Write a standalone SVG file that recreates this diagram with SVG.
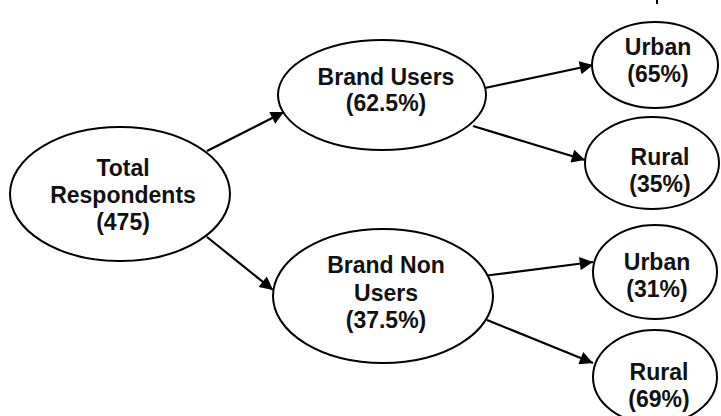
<svg xmlns="http://www.w3.org/2000/svg" width="721" height="416" viewBox="0 0 721 416">
  <defs>
    <marker id="arrow" viewBox="0 0 10 10" refX="10" refY="5" markerWidth="8" markerHeight="6" markerUnits="strokeWidth" orient="auto">
      <path d="M0,0 L10,5 L0,10 z" fill="#000"/>
    </marker>
    <style>
      .node ellipse { fill: #fff; stroke: #000; stroke-width: 2; }
      .node text { font-family: "Liberation Sans", Arial, sans-serif; font-weight: bold; font-size: 23px; fill: #111; text-anchor: middle; }
      .edge { stroke: #000; stroke-width: 2.2; fill: none; marker-end: url(#arrow); }
    </style>
  </defs>
  <rect width="721" height="416" fill="#fff"/>

  <!-- small tick at the top edge -->
  <line x1="657" y1="0" x2="657" y2="4" stroke="#000" stroke-width="2"/>

  <g id="connectors">
    <line class="edge" x1="207" y1="151" x2="284" y2="112"/>
    <line class="edge" x1="207" y1="237" x2="273" y2="290"/>
    <line class="edge" x1="485" y1="88" x2="593" y2="65"/>
    <line class="edge" x1="473" y1="126" x2="585" y2="160"/>
    <line class="edge" x1="483" y1="276" x2="593" y2="262"/>
    <line class="edge" x1="487" y1="320" x2="593" y2="363"/>
  </g>

  <g id="total" class="node">
    <ellipse cx="120" cy="194" rx="110" ry="67"/>
    <text x="123" y="176">Total</text>
    <text x="123" y="203">Respondents</text>
    <text x="123" y="230">(475)</text>
  </g>

  <g id="brand-users" class="node">
    <ellipse cx="382" cy="95" rx="104" ry="55"/>
    <text x="386" y="85">Brand Users</text>
    <text x="386" y="111">(62.5%)</text>
  </g>

  <g id="brand-non-users" class="node">
    <ellipse cx="383" cy="296" rx="110" ry="67"/>
    <text x="386" y="273">Brand Non</text>
    <text x="386" y="301">Users</text>
    <text x="386" y="328">(37.5%)</text>
  </g>

  <g id="users-urban" class="node">
    <ellipse cx="655" cy="65" rx="63" ry="43"/>
    <text x="658" y="55">Urban</text>
    <text x="658" y="82">(65%)</text>
  </g>

  <g id="users-rural" class="node">
    <ellipse cx="652" cy="163" rx="67" ry="46"/>
    <text x="660" y="165">Rural</text>
    <text x="660" y="192">(35%)</text>
  </g>

  <g id="non-users-urban" class="node">
    <ellipse cx="655" cy="272" rx="62" ry="47"/>
    <text x="657" y="270">Urban</text>
    <text x="657" y="297">(31%)</text>
  </g>

  <g id="non-users-rural" class="node">
    <ellipse cx="655" cy="377" rx="62" ry="47"/>
    <text x="659" y="380">Rural</text>
    <text x="659" y="407">(69%)</text>
  </g>
</svg>
